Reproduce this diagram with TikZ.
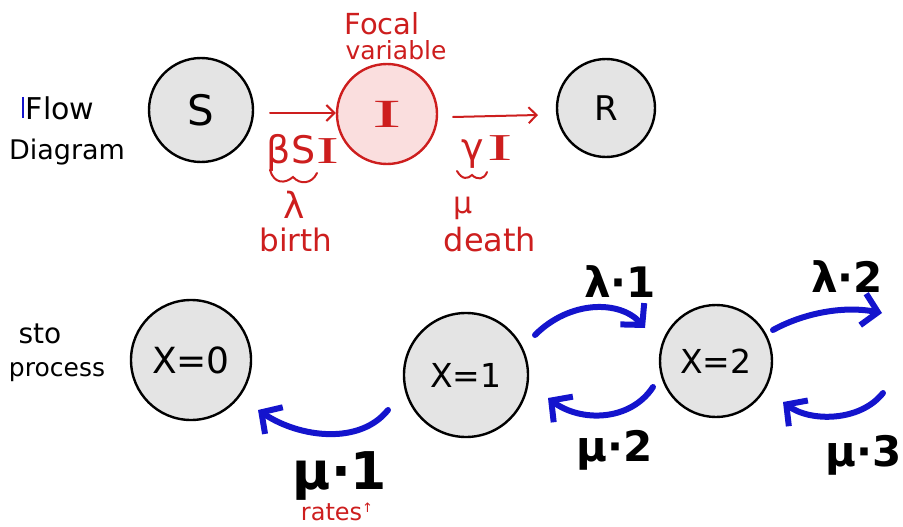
\documentclass[tikz,border=0pt]{standalone}
\usepackage{graphicx}
\usepackage{fontspec}
\setmainfont{DejaVu Sans}
\newfontfamily\serifI{Liberation Serif}
\newcommand{\wideI}[1]{\scalebox{#1}[1]{\serifI I}}
\usetikzlibrary{arrows.meta}
\definecolor{hred}{RGB}{205,30,30}
\definecolor{hblue}{RGB}{20,20,205}
\definecolor{cgray}{RGB}{228,228,228}
\definecolor{cpink}{RGB}{250,222,222}
\begin{document}
\begin{tikzpicture}[x=1pt,y=-1pt,
  state/.style={circle,draw=black,line width=2.4pt,fill=cgray,inner sep=0pt},
  focal/.style={circle,draw=hred,line width=2.4pt,fill=cpink,inner sep=0pt,text=hred},
  fs/.style={font=\fontsize{#1}{#1}\selectfont},
  fsb/.style={font=\bfseries\fontsize{#1}{#1}\selectfont},
  lbl/.style={inner sep=0pt},
  redtxt/.style={text=hred,inner sep=0pt},
  flowarrow/.style={draw=hred,line width=2pt,line cap=round,-{Straight Barb[length=8pt,width=16pt]}},
  rate/.style={draw=hblue,line width=6pt,line cap=round,-{Straight Barb[length=15pt,width=32pt]}},
  squig/.style={draw=hred,line width=2pt,line cap=round}
]
\useasboundingbox (0,0) rectangle (903,527);
% top: flow diagram
\node[lbl,fs=30] (flow) at (60,108) {Flow};
\node[lbl,fs=27] (diag) at (67,152) {Diagram};
\draw[hblue,line width=2.5pt] (23,97) -- (23,118);
\node[state,minimum size=104pt,fs=42] (S) at (201,110) {S};
\node[focal,minimum size=100pt,fs=40] (I) at (387,114) {\wideI{2.2}};
\node[state,minimum size=98pt,fs=34] (R) at (606,108) {R};
\node[redtxt,fs=29] (focaltxt) at (382,24) {Focal};
\node[redtxt,fs=25] (vartxt) at (396,50) {variable};
\coordinate (a1s) at (270,113);
\coordinate (a2s) at (453,117);
\coordinate (a2e) at (538,115);
\draw[flowarrow] (a1s) -- (I.west |- a1s);
\draw[flowarrow] (a2s) -- (a2e);
\node[redtxt,fs=38] (bsi) at (303,153) {β\kern1pt S\kern1pt\wideI{1.8}};
\draw[squig] (270,170) .. controls (274,184) and (285,184) .. (293,177) .. controls (300,185) and (312,184) .. (317,173);
\node[redtxt,fs=36] (lam) at (294,205) {λ};
\node[redtxt,fs=31] (birth) at (296,240) {birth};
\node[redtxt,fs=38] (gi) at (487,152) {γ\kern4pt\wideI{2}};
\draw[squig] (457,171) .. controls (462,180) and (468,179) .. (472,175) .. controls (477,180) and (484,180) .. (487,172);
\node[redtxt,fs=30] (mu) at (463,208) {μ};
\node[redtxt,fs=32] (death) at (490,240) {death};
% bottom: stochastic process
\node[lbl,fs=28] (sto) at (40,334) {sto};
\node[lbl,fs=25] (proc) at (57,372) {process};
\node[state,minimum size=120pt,fs=36] (X0) at (191,360) {X=0};
\node[state,minimum size=124pt,fs=33] (X1) at (466,375) {X=1};
\node[state,minimum size=112pt,fs=33] (X2) at (716,361) {X=2};
\coordinate (p10s) at (388,410);
\coordinate (p10e) at (258,410);
\coordinate (p12s) at (535,335);
\coordinate (p12e) at (645,328);
\coordinate (p21s) at (653,387);
\coordinate (p21e) at (548,398);
\coordinate (p23s) at (773,330);
\coordinate (p23e) at (882,313);
\coordinate (p32s) at (883,393);
\coordinate (p32e) at (783,402);
\draw[rate] (p10s) .. controls (360,445) and (300,438) .. (p10e);
\draw[rate] (p12s) .. controls (570,300) and (620,300) .. (p12e);
\draw[rate] (p21s) .. controls (630,422) and (580,422) .. (p21e);
\draw[rate] (p23s) .. controls (800,315) and (840,305) .. (p23e);
\draw[rate] (p32s) .. controls (860,422) and (810,422) .. (p32e);
\node[lbl,fsb=42] (l1) at (620,282) {λ·1};
\node[lbl,fsb=42] (l2) at (847,277) {λ·2};
\node[lbl,fsb=42] (m2) at (615,450) {μ·2};
\node[lbl,fsb=42] (m3) at (864,455) {μ·3};
\node[lbl,fsb=52] (m1) at (340,476) {μ·1};
\node[redtxt,fs=24] (rates) at (337,512) {rates\raisebox{0.6ex}{\fontsize{13}{13}\selectfont ↑}};
\end{tikzpicture}
\end{document}
